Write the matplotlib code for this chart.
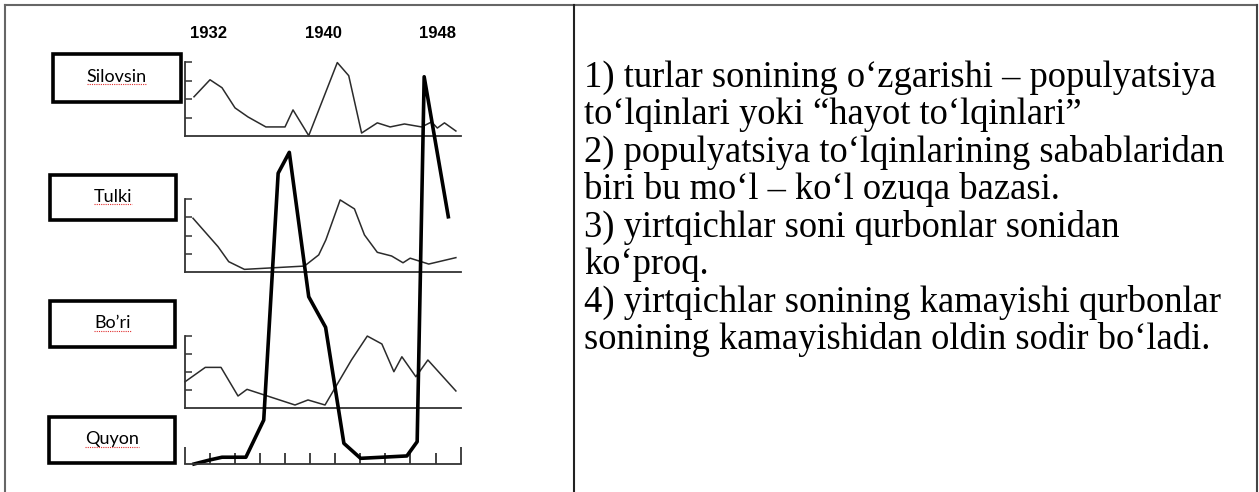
"""Predator/prey population waves (Silovsin, Tulki, Bo'ri, Quyon) with notes."""
import matplotlib.pyplot as plt
import matplotlib.transforms as mtransforms
import numpy as np
from matplotlib.lines import Line2D
from matplotlib.patches import Rectangle

W, H = 1259, 492          # output size in pixels

# --- data (years, relative abundance) --------------------------------------
SIL_YEAR = [1930.97, 1932.09, 1932.93, 1933.84, 1934.75, 1936.0, 1937.34, 1937.9,
            1939.0, 1941.0, 1941.8, 1942.7, 1943.8, 1944.7, 1945.7, 1946.9,
            1947.6, 1948.0, 1948.5, 1949.3]
SIL_VAL = [2.12, 3.04, 2.61, 1.52, 1.03, 0.49, 0.49, 1.41, 0.02, 3.97, 3.26,
           0.16, 0.71, 0.49, 0.65, 0.49, 0.76, 0.43, 0.71, 0.27]

TUL_YEAR = [1930.9, 1932.65, 1933.4, 1934.5, 1938.7, 1939.7, 1940.2, 1941.2,
            1942.2, 1942.9, 1943.8, 1944.8, 1945.6, 1946.1, 1947.4, 1949.3]
TUL_VAL = [2.95, 1.40, 0.58, 0.16, 0.34, 0.95, 1.77, 3.95, 3.46, 2.04, 1.09,
           0.89, 0.52, 0.77, 0.45, 0.80]

BOR_YEAR = [1930.34, 1931.76, 1932.86, 1934.05, 1934.68, 1938.04, 1938.95,
            1940.14, 1941.99, 1943.1, 1944.12, 1944.96, 1945.52, 1946.5,
            1947.34, 1949.3]
BOR_VAL = [1.44, 2.24, 2.24, 0.65, 1.02, 0.15, 0.43, 0.15, 2.65, 3.98, 3.54,
           2.0, 2.83, 1.72, 2.65, 0.93]

QUY_YEAR = [1930.97, 1932.07, 1932.93, 1934.6, 1935.85, 1936.86, 1937.64,
            1939.0, 1940.18, 1941.46, 1942.63, 1945.87, 1946.59, 1947.08, 1948.77]
QUY_VAL = [0.0, 0.22, 0.37, 0.37, 2.40, 15.89, 17.03, 9.14, 7.47, 1.13, 0.31,
           0.44, 1.22, 21.16, 13.51]

YEAR_LABELS = [1932, 1940, 1948]
PANEL_NAMES = ["Silovsin", "Tulki", "Bo’ri", "Quyon"]

NOTES = [
    "1) turlar sonining o‘zgarishi – populyatsiya",
    "to‘lqinlari yoki “hayot to‘lqinlari”",
    "2) populyatsiya to‘lqinlarining sabablaridan",
    "biri bu mo‘l – ko‘l ozuqa bazasi.",
    "3) yirtqichlar soni qurbonlar sonidan",
    "ko‘proq.",
    "4) yirtqichlar sonining kamayishi qurbonlar",
    "sonining kamayishidan oldin sodir bo‘ladi.",
]

# --- layout (pixels from top-left) -----------------------------------------
X_LIM = (1930.34, 1949.63)
AX_LEFT, AX_RIGHT = 185, 460.6
PANEL_Y = {"Silovsin": (62, 136), "Tulki": (199, 272.3), "Bo’ri": (335.7, 407.7)}
QUY_TOP, QUY_BASE = 60, 464
QUY_UNIT = 18.3            # px per value unit on the rabbit axis
BOXES = {                  # left, top, right, bottom, text baseline
    "Silovsin": (52.5, 54, 181, 102.3, 81.5),
    "Tulki": (49.9, 175, 175.9, 220, 201.5),
    "Bo’ri": (49.9, 301, 175, 346.6, 328.5),
    "Quyon": (48.5, 416.8, 175, 463.3, 444),
}
NOTE_X, NOTE_Y0, NOTE_STEP = 584, 87, 37.4
LINE_C = "#2b2b2b"


def fig_rect(left, top, right, bottom):
    return [left / W, 1 - bottom / H, (right - left) / W, (bottom - top) / H]


def fx(px):
    return px / W


def fy(py):
    return 1 - py / H


fig = plt.figure(figsize=(W / 100, H / 100), dpi=100)
fig.patch.set_facecolor("white")

# table frame
for xs, ys, c in [((5, 1257), (5, 5), "#666666"), ((5, 5), (5, 492), "#666666"),
                  ((573.5, 573.5), (5, 492), "#222222"),
                  ((1257, 1257), (5, 492), "#444444")]:
    fig.add_artist(Line2D([fx(x) for x in xs], [fy(y) for y in ys],
                          color=c, lw=1.5))

# three thin predator panels
series = {"Silovsin": (SIL_YEAR, SIL_VAL), "Tulki": (TUL_YEAR, TUL_VAL),
          "Bo’ri": (BOR_YEAR, BOR_VAL)}
for name, (yrs, vals) in series.items():
    top, base = PANEL_Y[name]
    ax = fig.add_axes(fig_rect(AX_LEFT, top, AX_RIGHT, base))
    ax.patch.set_visible(False)
    ax.plot(yrs, vals, color=LINE_C, lw=1.1, clip_on=False)
    ax.set_xlim(*X_LIM)
    ax.set_ylim(0, 4)
    for s in ("top", "right"):
        ax.spines[s].set_visible(False)
    for s in ("left", "bottom"):
        ax.spines[s].set_color("#333333")
        ax.spines[s].set_linewidth(1.3)
    ax.set_xticks([])
    ax.set_yticks([1, 2, 3, 4])
    ax.set_yticklabels([])
    ax.tick_params(axis="y", direction="in", length=5, width=1.1, color="#333333")

# rabbit axis spans the whole height, drawn on top
axq = fig.add_axes(fig_rect(AX_LEFT, QUY_TOP, AX_RIGHT, QUY_BASE), zorder=5)
axq.patch.set_visible(False)
axq.plot(QUY_YEAR, QUY_VAL, color="black", lw=2.6, clip_on=False)
axq.set_xlim(*X_LIM)
axq.set_ylim(0, (QUY_BASE - QUY_TOP) / QUY_UNIT)
for s in ("top", "right", "left"):
    axq.spines[s].set_visible(False)
axq.spines["bottom"].set_color("#333333")
axq.spines["bottom"].set_linewidth(1.3)
ticks = np.linspace(*X_LIM, 12)
axq.set_xticks([ticks[0], ticks[-1]])
axq.set_xticks(ticks[1:-1], minor=True)
axq.set_xticklabels([])
axq.set_yticks([])
axq.tick_params(axis="x", which="major", direction="in", length=12, width=1.2,
                color="#222222")
axq.tick_params(axis="x", which="minor", direction="in", length=8, width=1.2,
                color="#222222")

# year labels above the top panel
trans = mtransforms.blended_transform_factory(axq.transData, fig.transFigure)
for yr in YEAR_LABELS:
    axq.text(yr, fy(33.5), str(yr), transform=trans, ha="center", va="center",
             fontweight="bold", family=["Liberation Sans", "DejaVu Sans"],
             fontsize=12)

# name boxes
labels = []
for name in PANEL_NAMES:
    l, t, r, b, base = BOXES[name]
    fig.add_artist(Rectangle((fx(l), fy(b)), fx(r) - fx(l), fy(t) - fy(b),
                             transform=fig.transFigure, fill=False,
                             edgecolor="black", lw=2.6))
    txt = fig.text(fx((l + r) / 2), fy(base), name, ha="center", va="baseline",
                   family=["Lato", "DejaVu Sans"], fontsize=13)
    labels.append((txt, base))

# red spell-check underline under each name
fig.canvas.draw()
renderer = fig.canvas.get_renderer()
for txt, base in labels:
    bb = txt.get_window_extent(renderer)
    y = H - base - 2.5
    fig.add_artist(Line2D([bb.x0, bb.x1], [y, y], transform=mtransforms.IdentityTransform(),
                          color="#e03030", lw=0.8, ls=(0, (1, 1))))

# notes on the right
for i, line in enumerate(NOTES):
    fig.text(fx(NOTE_X), fy(NOTE_Y0 + i * NOTE_STEP), line, ha="left",
             va="baseline", family=["Liberation Serif", "DejaVu Serif"],
             fontsize=26.3)

fig.savefig("out.png", dpi=100)
